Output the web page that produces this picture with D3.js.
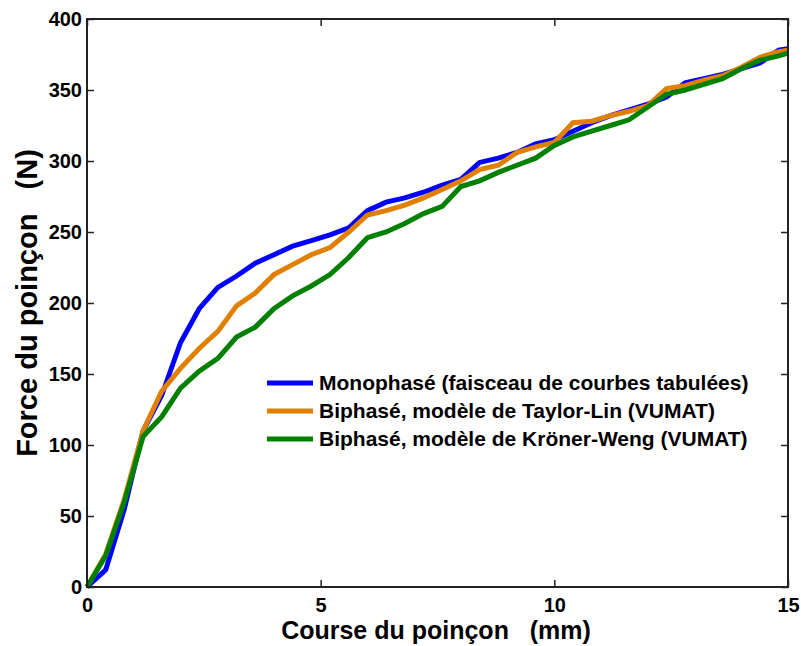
<!DOCTYPE html>
<html>
<head>
<meta charset="utf-8">
<script src="https://cdn.jsdelivr.net/npm/d3@7"></script>
<style>
  body { margin: 0; background: #fff; }
  text { font-family: "Liberation Sans", Arial, sans-serif; font-weight: bold; fill: #000; }
</style>
</head>
<body>
<svg id="chart" width="801" height="646"></svg>
<script>
// course du poinçon (mm)
const course = [0, 0.4, 0.8, 1.2, 1.6, 2.0, 2.4, 2.8, 3.2, 3.6, 4.0, 4.4, 4.8, 5.2, 5.6, 6.0, 6.4, 6.8, 7.2, 7.6,
  8.0, 8.4, 8.8, 9.2, 9.6, 10.0, 10.4, 10.8, 11.2, 11.6, 12.0, 12.4, 12.8, 13.2, 13.6, 14.0, 14.4, 14.8, 15.0];

const monophase = [0, 12, 55, 110, 135, 172, 196, 211, 219, 228, 234, 240, 244, 248, 253, 265, 271, 274, 278, 283,
  287, 299, 302, 306, 312, 315, 321, 327, 332, 336, 340, 345, 355, 358, 361, 365, 369, 378, 379];
const taylorLin = [0, 23, 62, 110, 138, 154, 168, 180, 198, 207, 220, 227, 234, 239, 250, 262, 265, 269, 274, 280,
  286, 294, 297, 306, 310, 313, 327, 328, 332, 335, 339, 351, 353, 357, 360, 366, 373, 377, 378];
const kronerWeng = [0, 22, 60, 106, 120, 140, 152, 161, 176, 183, 196, 205, 212, 220, 232, 246, 250, 256, 263, 268,
  282, 286, 292, 297, 302, 311, 317, 321, 325, 329, 338, 347, 350, 354, 358, 365, 371, 374, 376];

const seriesNames = ["Monophasé (faisceau de courbes tabulées)", "Biphasé, modèle de Taylor-Lin (VUMAT)", "Biphasé, modèle de Kröner-Weng (VUMAT)"];
const seriesColors = ["#0000ff", "#e08000", "#008000"];
const xTicks = [0, 5, 10, 15];
const yTicks = [0, 50, 100, 150, 200, 250, 300, 350, 400];

const svg = d3.select("#chart");
const pLeft = 87, pRight = 788, pTop = 19, pBottom = 587;

const x = d3.scaleLinear().domain([0, 15]).range([pLeft, pRight]);
const y = d3.scaleLinear().domain([0, 400]).range([pBottom, pTop]);

// curves
const line = d3.line().x(d => x(d[0])).y(d => y(d[1]));
[monophase, taylorLin, kronerWeng].forEach((vals, i) => {
  svg.append("path")
    .datum(course.map((c, j) => [c, vals[j]]))
    .attr("fill", "none")
    .attr("stroke", seriesColors[i])
    .attr("stroke-width", 5)
    .attr("stroke-linejoin", "miter")
    .attr("d", line);
});

// axes (matlab box, ticks inward)
const axisColor = "#222";
svg.append("rect")
  .attr("x", pLeft).attr("y", pTop)
  .attr("width", pRight - pLeft).attr("height", pBottom - pTop)
  .attr("fill", "none").attr("stroke", axisColor).attr("stroke-width", 2);

const yAxisL = svg.append("g").attr("transform", `translate(${pLeft},0)`)
  .call(d3.axisLeft(y).tickValues(yTicks).tickSizeInner(-7).tickSizeOuter(0).tickPadding(12));
const yAxisR = svg.append("g").attr("transform", `translate(${pRight},0)`)
  .call(d3.axisRight(y).tickValues(yTicks).tickSizeInner(-7).tickSizeOuter(0).tickFormat(""));
const xAxisB = svg.append("g").attr("transform", `translate(0,${pBottom})`)
  .call(d3.axisBottom(x).tickValues(xTicks).tickSizeInner(-7).tickSizeOuter(0).tickPadding(12));
const xAxisT = svg.append("g").attr("transform", `translate(0,${pTop})`)
  .call(d3.axisTop(x).tickValues(xTicks).tickSizeInner(-7).tickSizeOuter(0).tickFormat(""));

[yAxisL, yAxisR, xAxisB, xAxisT].forEach(g => {
  g.select(".domain").remove();
  g.selectAll(".tick line").attr("stroke", axisColor).attr("stroke-width", 1.5);
  g.selectAll("text").style("font-size", "20px").style("font-weight", "bold")
    .style("font-family", "'Liberation Sans', Arial, sans-serif").attr("fill", "#000");
});
yAxisL.selectAll("text").attr("x", -5);
xAxisB.selectAll("text").attr("dy", null).attr("y", 25);

// axis titles
svg.append("text")
  .attr("x", 436).attr("y", 639)
  .attr("text-anchor", "middle")
  .style("font-size", "25px")
  .style("white-space", "pre")
  .text("Course du poinçon   (mm)");

svg.append("text")
  .attr("transform", `translate(37,303) rotate(-90)`)
  .attr("text-anchor", "middle")
  .style("font-size", "29px")
  .style("white-space", "pre")
  .text("Force du poinçon   (N)");

// legend
const legend = svg.append("g").attr("transform", "translate(267,383)");
seriesNames.forEach((name, i) => {
  const row = legend.append("g").attr("transform", `translate(0,${i * 28})`);
  row.append("line").attr("x1", 0).attr("x2", 46).attr("y1", 0).attr("y2", 0)
    .attr("stroke", seriesColors[i]).attr("stroke-width", 5);
  row.append("text").attr("x", 52).attr("y", 0).attr("dy", "0.35em")
    .style("font-size", "21px").text(name);
});
</script>
</body>
</html>
